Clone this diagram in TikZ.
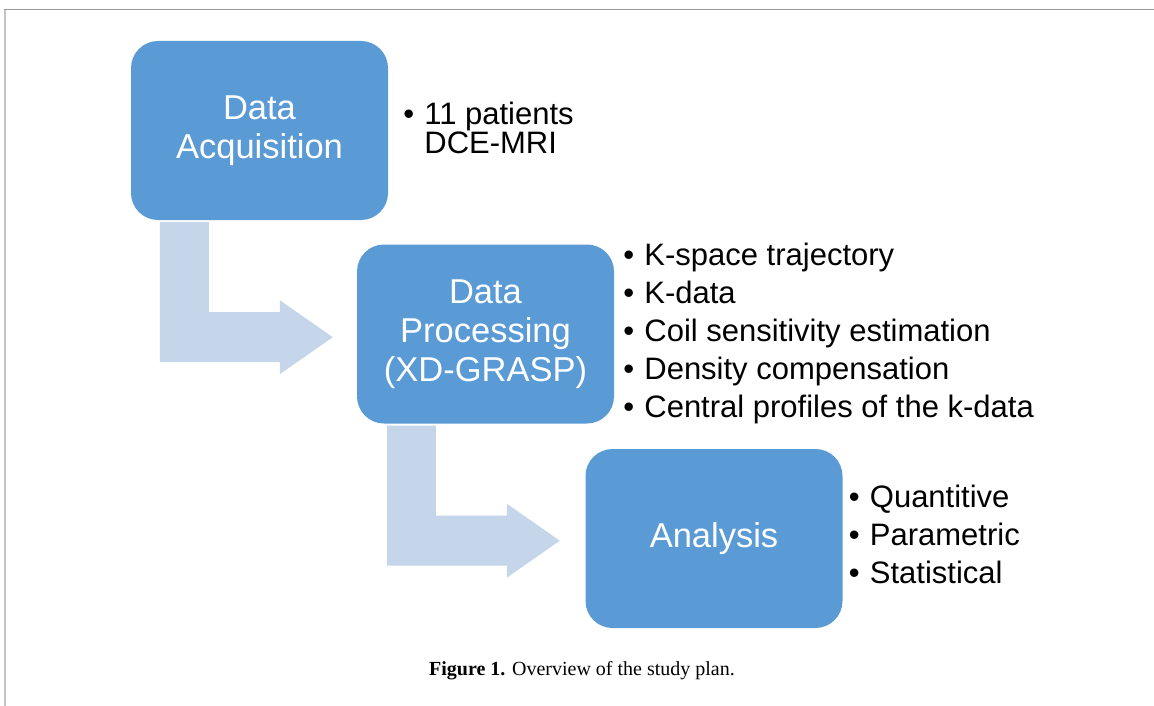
\documentclass[tikz,border=0pt]{standalone}
\usepackage{fontspec}
\setmainfont{Liberation Sans}
\newfontfamily\captionfont{Liberation Serif}
\usetikzlibrary{positioning,calc}

\definecolor{boxblue}{HTML}{5B9BD5}
\definecolor{arrowblue}{HTML}{C5D5EA}
\definecolor{framegray}{HTML}{9A9A9A}
\definecolor{edgegray}{HTML}{C4C4C4}

\tikzset{
  stage/.style={rectangle, rounded corners=27pt, fill=boxblue, text=white,
    minimum width=257pt, minimum height=179pt, align=center, inner sep=0pt,
    font=\fontsize{34.5}{39}\selectfont},
  points/.style={align=left, inner sep=0pt, font=\fontsize{31}{38}\selectfont},
  bentarrow/.pic={
    \fill[arrowblue] (0,0) -- (49,0) -- (49,90) -- (120,90) -- (120,78)
      -- (173,115) -- (120,152) -- (120,140) -- (0,140) -- cycle;
  }
}
\newcommand{\bulletitem}[1]{\makebox[21pt][l]{\textbullet}#1}

\begin{document}
\begin{tikzpicture}[x=1pt,y=-1pt]
  \useasboundingbox (0,0) rectangle (1154,706);

  % Marco de la figura
  \draw[edgegray, line width=2pt] (5,9.5) -- (5,706);
  \draw[framegray, line width=1.5pt] (4,9.5) -- (1154,9.5);

  % Etapas del estudio
  \node[stage] (acq) at (259.5,130.5) {Data\\Acquisition};
  \node[stage] (proc) at (485.5,334) {Data\\Processing\\(XD-GRASP)};
  \node[stage] (ana) at (714,538.5) {Analysis};

  % Flechas entre etapas
  \pic at ($(acq.south west)+(29,2)$) {bentarrow};
  \pic at ($(proc.south west)+(30,2)$) {bentarrow};

  % Listas de cada etapa
  \node[points, right=15pt of acq, yshift=3pt] (acqlist)
    {\bulletitem{11 patients}\\[-9pt]\hspace*{21pt}DCE-MRI};
  \node[points, right=9pt of proc, yshift=1pt] (proclist)
    {\bulletitem{K-space trajectory}\\
     \bulletitem{K-data}\\
     \bulletitem{Coil sensitivity estimation}\\
     \bulletitem{Density compensation}\\
     \bulletitem{Central profiles of the k-data}};
  \node[points, right=6pt of ana, yshift=4pt] (analist)
    {\bulletitem{Quantitive}\\
     \bulletitem{Parametric}\\
     \bulletitem{Statistical}};

  % Pie de figura
  \node[font=\captionfont\fontsize{20}{24}\selectfont, anchor=base] (caption)
    at (582,675) {\textbf{Figure 1.} Overview of the study plan.};
\end{tikzpicture}
\end{document}
